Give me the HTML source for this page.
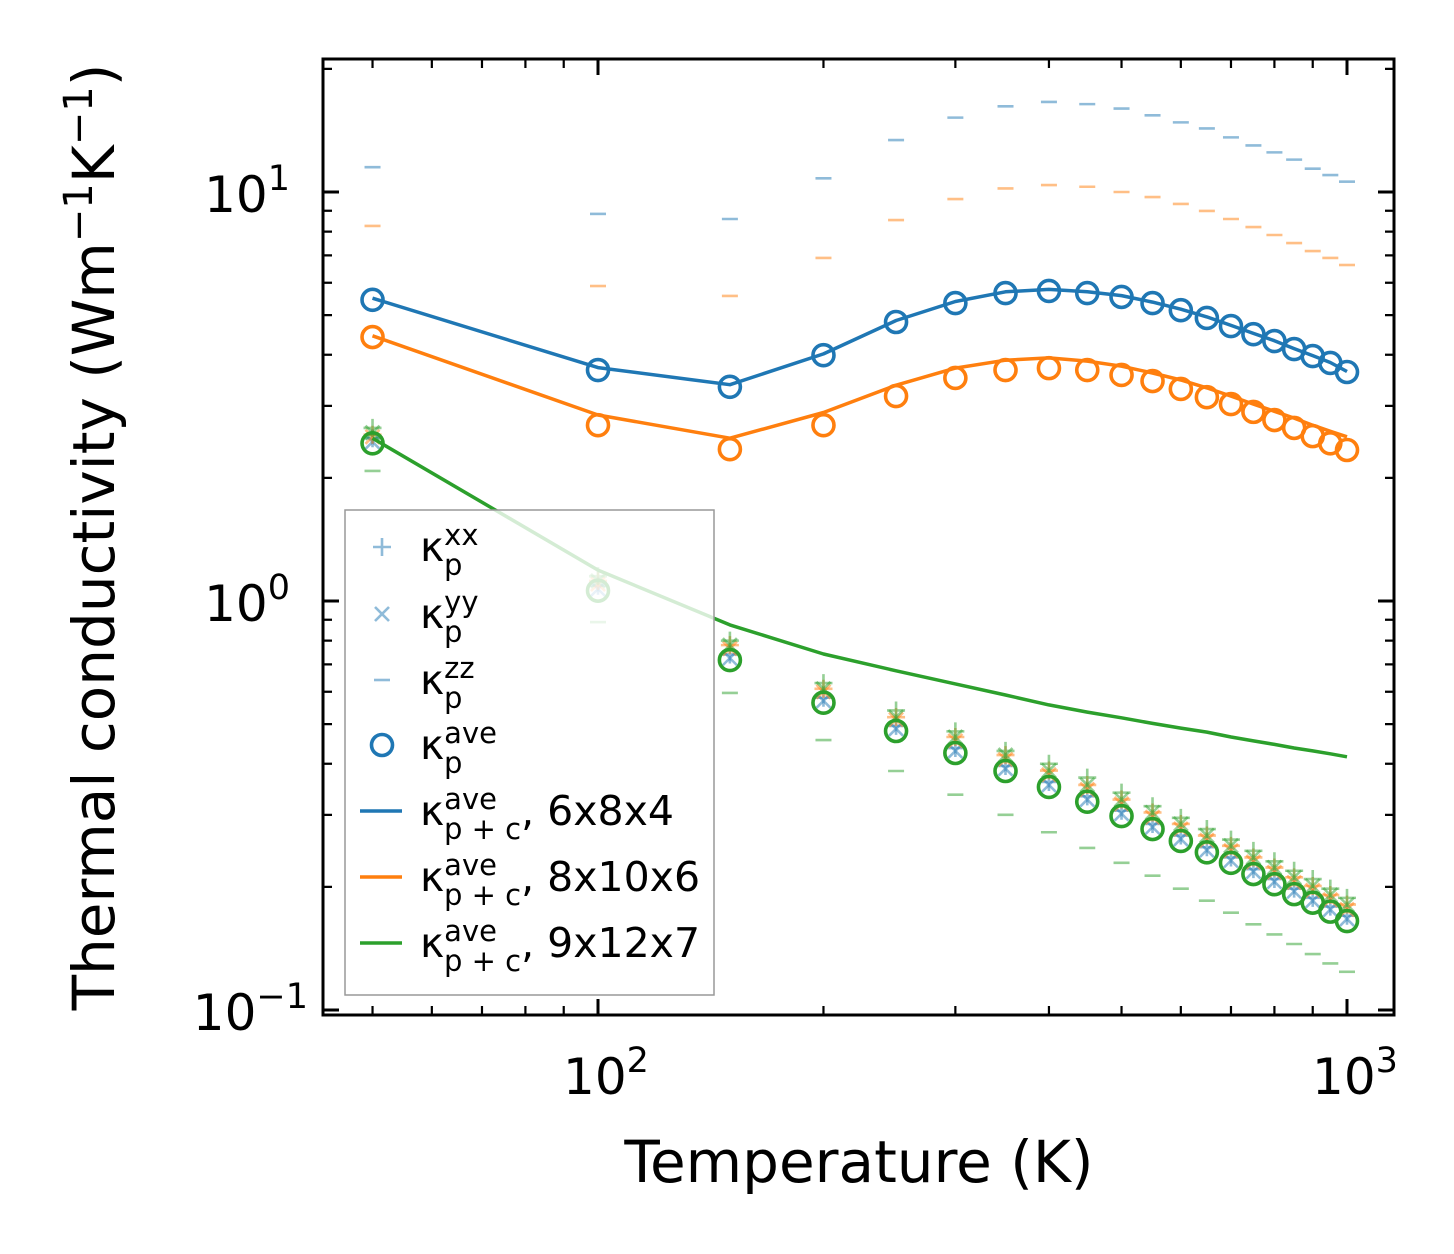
<!DOCTYPE html>
<html><head><meta charset="utf-8"><style>
html,body{margin:0;padding:0;background:#fff;}
svg{display:block;font-family:"DejaVu Sans","Liberation Sans",sans-serif;}
</style></head><body>
<svg id="chart" width="1454" height="1254" viewBox="0 0 1454 1254" xmlns="http://www.w3.org/2000/svg">
<rect x="0" y="0" width="1454" height="1254" fill="#fff"/>
<g id="data"></g>
<g id="axes"></g>
<g id="legend"></g>
</svg>
<script>
const temps=[50,100,150,200,250,300,350,400,450,500,550,600,650,700,750,800,850,900,950,1000];
const blueAve=[5.45,3.67,3.34,3.99,4.81,5.35,5.66,5.73,5.66,5.54,5.35,5.14,4.92,4.70,4.49,4.32,4.13,3.97,3.82,3.63];
const blueLine=[5.5,3.72,3.38,4.02,4.85,5.4,5.7,5.78,5.7,5.58,5.38,5.17,4.95,4.72,4.51,4.33,4.14,3.98,3.83,3.64];
const blueZZ=[11.5,8.84,8.59,10.8,13.4,15.2,16.2,16.6,16.4,16.0,15.4,14.8,14.3,13.6,13.0,12.5,12.0,11.4,11.0,10.6];
const blueXX=[2.5,1.09,0.74,0.58,0.495,0.437,0.395,0.361,0.333,0.307,0.285,0.267,0.25,0.236,0.221,0.209,0.198,0.188,0.179,0.17];
const blueYY=[2.45,1.07,0.725,0.57,0.487,0.43,0.389,0.355,0.327,0.302,0.28,0.262,0.246,0.232,0.218,0.206,0.195,0.185,0.176,0.167];
const orangeAve=[4.42,2.69,2.35,2.69,3.17,3.51,3.67,3.71,3.67,3.57,3.45,3.30,3.15,3.03,2.90,2.77,2.65,2.53,2.43,2.34];
const orangeLine=[4.45,2.85,2.50,2.89,3.37,3.71,3.88,3.93,3.86,3.75,3.61,3.47,3.32,3.17,3.03,2.91,2.80,2.69,2.60,2.52];
const orangeZZ=[8.26,5.89,5.57,6.90,8.54,9.61,10.2,10.4,10.3,10.0,9.72,9.35,8.99,8.59,8.21,7.85,7.50,7.17,6.90,6.63];
const orangeXX=[2.55,1.12,0.78,0.61,0.52,0.465,0.42,0.385,0.355,0.327,0.304,0.285,0.267,0.252,0.236,0.223,0.211,0.201,0.191,0.181];
const orangeYY=[2.52,1.10,0.765,0.60,0.513,0.455,0.41,0.376,0.346,0.319,0.296,0.277,0.26,0.245,0.23,0.217,0.205,0.196,0.186,0.176];
const greenAve=[2.43,1.06,0.717,0.564,0.481,0.425,0.384,0.351,0.323,0.298,0.277,0.259,0.243,0.229,0.215,0.203,0.192,0.183,0.174,0.165];
const greenLine=[2.50,1.19,0.874,0.742,0.675,0.627,0.589,0.557,0.535,0.518,0.502,0.489,0.478,0.465,0.455,0.446,0.437,0.430,0.423,0.416];
const greenZZ=[2.08,0.888,0.596,0.457,0.384,0.336,0.300,0.272,0.249,0.229,0.213,0.198,0.185,0.173,0.162,0.153,0.145,0.137,0.130,0.124];
const greenXX=[2.65,1.15,0.80,0.63,0.54,0.48,0.43,0.40,0.37,0.34,0.315,0.295,0.277,0.261,0.245,0.231,0.219,0.209,0.198,0.188];
const greenYY=[2.58,1.12,0.78,0.61,0.52,0.465,0.42,0.385,0.355,0.327,0.304,0.285,0.267,0.252,0.236,0.223,0.211,0.201,0.191,0.181];
const xTickVals=[100,1000];
const xTickExp=["2","3"];
const yTickVals=[0.1,1,10];
const yTickExp=["−1","0","1"];

const L=323,R=1394,T=59,B=1015;
const X0=598,XD=749,Y0=601,YD=409;
function sx(v){return X0+XD*(Math.log10(v)-2);}
function sy(v){return Y0-YD*Math.log10(v);}
const NS="http://www.w3.org/2000/svg";
function mk(tag,attrs,parent){const e=document.createElementNS(NS,tag);for(const k in attrs)e.setAttribute(k,attrs[k]);parent.appendChild(e);return e;}
const dataG=document.getElementById('data');
const axesG=document.getElementById('axes');
const legG=document.getElementById('legend');
const C={blue:"#1f77b4",orange:"#ff7f0e",green:"#2ca02c"};

function plus(g,x,y,c,name){const e=mk('path',{d:`M${x-9},${y}H${x+9}M${x},${y-9}V${y+9}`,stroke:c,'stroke-width':2.6,'stroke-opacity':0.5,fill:'none'},g);

}
function cross(g,x,y,c,name){const e=mk('path',{d:`M${x-7},${y-7}L${x+7},${y+7}M${x-7},${y+7}L${x+7},${y-7}`,stroke:c,'stroke-width':2.6,'stroke-opacity':0.5,fill:'none'},g);

}
function dash(g,x,y,c,name){const e=mk('path',{d:`M${x-8},${y}H${x+8}`,stroke:c,'stroke-width':2.6,'stroke-opacity':0.5,fill:'none'},g);

}
function circ(g,x,y,c,name){const e=mk('circle',{cx:x,cy:y,r:10.5,stroke:c,'stroke-width':3.6,fill:'none'},g);

}
function line(g,vals,c,name){const d=vals.map((v,i)=>(i?'L':'M')+sx(temps[i]).toFixed(1)+','+sy(v).toFixed(1)).join('');
const e=mk('path',{d:d,stroke:c,'stroke-width':3.5,fill:'none','stroke-linejoin':'round'},g);

}

const series=[
 ['blue',blueXX,blueYY,blueZZ,blueAve,blueLine],
 ['orange',orangeXX,orangeYY,orangeZZ,orangeAve,orangeLine],
 ['green',greenXX,greenYY,greenZZ,greenAve,greenLine]];
series.forEach(s=>{const c=C[s[0]];
 temps.forEach((t,i)=>{
  plus(dataG,sx(t),sy(s[1][i]),c,s[0]+'-kxx-point');
  cross(dataG,sx(t),sy(s[2][i]),c,s[0]+'-kyy-point');
  dash(dataG,sx(t),sy(s[3][i]),c,s[0]+'-kzz-point');
  circ(dataG,sx(t),sy(s[4][i]),c,s[0]+'-kave-point');
 });
 line(dataG,s[5],c,s[0]+'-kpc-line');
});

const fr=mk('rect',{x:L,y:T,width:R-L,height:B-T,fill:'none',stroke:'#000','stroke-width':3},axesG);


function tk(d,w,name){const e=mk('path',{d:d,stroke:'#000','stroke-width':w,fill:'none'},axesG);

}
for(let dec=10;dec<=1000;dec*=10){for(let m=1;m<10;m++){const v=dec*m;const x=sx(v);if(x<L+1||x>R-1)continue;
 const major=m===1;const len=major?16:9;
 tk(`M${x},${B}V${B-len}M${x},${T}V${T+len}`,major?3:2.2,major?'x-major-tick':'x-minor-tick');}}
xTickVals.forEach((v,i)=>{const t=mk('text',{x:sx(v)+8,y:1094,'font-size':50,'text-anchor':'middle',fill:'#000'},axesG);
 
 
 t.innerHTML=`10<tspan dy="-22" font-size="35">${xTickExp[i]}</tspan>`;});
for(let dec=0.1;dec<=10.01;dec*=10){for(let m=1;m<10;m++){const v=dec*m;const y=sy(v);if(y<T+1||y>B-1)continue;
 const major=m===1;const len=major?16:9;
 tk(`M${L},${y}H${L+len}M${R},${y}H${R-len}`,major?3:2.2,major?'y-major-tick':'y-minor-tick');}}
yTickVals.forEach((v,i)=>{const t=mk('text',{x:yTickExp[i].length>1?308:290,y:sy(v)+20,'font-size':50,'text-anchor':'end',fill:'#000'},axesG);
 
 
 t.innerHTML=`10<tspan dy="-22" font-size="35">${yTickExp[i]}</tspan>`;});
const xl=mk('text',{x:859,y:1182,'font-size':58,'text-anchor':'middle',fill:'#000'},axesG);


xl.textContent='Temperature (K)';
const yl=mk('text',{x:0,y:0,'font-size':58,'text-anchor':'middle',fill:'#000',transform:'translate(114,537) rotate(-90)'},axesG);


yl.innerHTML='Thermal conductivity (Wm<tspan dy="-22" font-size="40">−1</tspan><tspan dy="22">K</tspan><tspan dy="-22" font-size="40">−1</tspan><tspan dy="22">)</tspan>';

const lb=mk('rect',{x:345,y:510,width:369,height:485,fill:'#fff','fill-opacity':0.8,stroke:'#999','stroke-width':1.5},legG);


const legRows=[
 ['plus','xx',''],['cross','yy',''],['dash','zz',''],['circ','ave',''],
 ['line','ave',', 6x8x4',C.blue],['line','ave',', 8x10x6',C.orange],['line','ave',', 9x12x7',C.green]];
const legY=[547,614,680,745,811,877,943];
legRows.forEach((r,i)=>{const y=legY[i];const g=mk('g',{},legG);
 
 
 if(r[0]==='plus')plus(g,382,y,C.blue,'legend-marker');
 if(r[0]==='cross')cross(g,382,y,C.blue,'legend-marker');
 if(r[0]==='dash')dash(g,382,y,C.blue,'legend-marker');
 if(r[0]==='circ')circ(g,382,y,C.blue,'legend-marker');
 if(r[0]==='line'){const e=mk('path',{d:`M360,${y}H402`,stroke:r[3],'stroke-width':3.5},g);
  
  }
 const sub=r[0]==='line'?'p + c':'p';
 const t=mk('text',{x:420,y:y+14,'font-size':41,fill:'#000'},g);
 
 
 t.innerHTML=`κ<tspan font-size="29" dy="-16">${r[1]}</tspan><tspan font-size="29" x="444" dy="30">${sub}</tspan><tspan dy="-14">${r[2]}</tspan>`;
});
</script>
</body></html>
